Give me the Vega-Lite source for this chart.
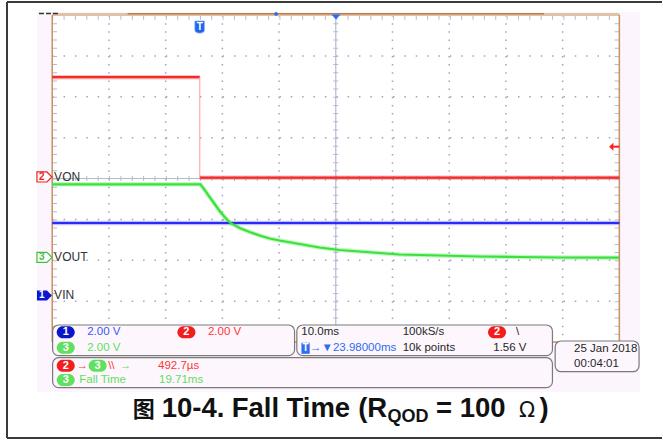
{
"$schema": "https://vega.github.io/schema/vega-lite/v6.json",
"width": 663, "height": 441,
"autosize": {"type": "fit", "contains": "padding"},
"padding": 0,
"background": "#ffffff",
"config": {"view": {"stroke": null}},
"datasets": {
 "areas": [
  {"kind": "bezel", "t": -52.69, "t2": 53.64, "v": 4.073, "v2": -5.223},
  {"kind": "screen", "t": -50, "t2": 50, "v": 4, "v2": -4},
  {"kind": "panel", "t": -49.93, "t2": -7.27, "v": -3.584, "v2": -4.335},
  {"kind": "panel", "t": -6.87, "t2": 38.2, "v": -3.584, "v2": -4.335},
  {"kind": "panel", "t": -49.93, "t2": 38.2, "v": -4.384, "v2": -5.118},
  {"kind": "panel", "t": 38.68, "t2": 53.47, "v": -3.976, "v2": -4.727}
 ],
 "rules": [
  {"kind": "frame", "t": -57.975, "t2": -57.975, "v": 4.318, "v2": -6.349},
  {"kind": "frame", "t": -57.975, "t2": 57.518, "v": 4.318, "v2": 4.318},
  {"kind": "frame", "t": -57.975, "t2": 57.518, "v": -6.349, "v2": -6.349},
  {"kind": "gridv", "t": -40, "t2": -40, "v": 4, "v2": -4},
  {"kind": "gridv", "t": -30, "t2": -30, "v": 4, "v2": -4},
  {"kind": "gridv", "t": -20, "t2": -20, "v": 4, "v2": -4},
  {"kind": "gridv", "t": -10, "t2": -10, "v": 4, "v2": -4},
  {"kind": "gridv", "t": 10, "t2": 10, "v": 4, "v2": -4},
  {"kind": "gridv", "t": 20, "t2": 20, "v": 4, "v2": -4},
  {"kind": "gridv", "t": 30, "t2": 30, "v": 4, "v2": -4},
  {"kind": "gridv", "t": 40, "t2": 40, "v": 4, "v2": -4},
  {"kind": "gridh", "t": -50, "t2": 50, "v": 3, "v2": 3},
  {"kind": "gridh", "t": -50, "t2": 50, "v": 2, "v2": 2},
  {"kind": "gridh", "t": -50, "t2": 50, "v": 1, "v2": 1},
  {"kind": "gridh", "t": -50, "t2": 50, "v": -1, "v2": -1},
  {"kind": "gridh", "t": -50, "t2": 50, "v": -2, "v2": -2},
  {"kind": "gridh", "t": -50, "t2": 50, "v": -3, "v2": -3},
  {"kind": "axis", "t": 0, "t2": 0, "v": 4, "v2": -4},
  {"kind": "axis", "t": -50, "t2": 50, "v": 0, "v2": 0},
  {"kind": "tickv", "t": 0, "t2": 0, "v": 4, "v2": -4},
  {"kind": "tickv", "t": -49.6, "t2": -49.6, "v": 4, "v2": -4},
  {"kind": "tickv", "t": 49.6, "t2": 49.6, "v": 4, "v2": -4},
  {"kind": "tickh", "t": -50, "t2": 50, "v": 0, "v2": 0},
  {"kind": "tickh", "t": -50, "t2": 50, "v": 3.945, "v2": 3.945},
  {"kind": "edge", "t": -50, "t2": -50, "v": 4, "v2": -4},
  {"kind": "edge", "t": 50, "t2": 50, "v": 4, "v2": -4},
  {"kind": "edge", "t": -50, "t2": 50, "v": -4, "v2": -4},
  {"kind": "topband", "t": -50, "t2": 50, "v": 4.01, "v2": 4.01},
  {"kind": "topbar", "t": -36.7, "t2": 36.7, "v": 4.03, "v2": 4.03},
  {"kind": "junk", "t": -52.34, "t2": -48.64, "v": 4.037, "v2": 4.037},
  {"kind": "redge", "t": -23.98, "t2": -23.98, "v": 2.48, "v2": 0.02},
  {"kind": "tail", "t": 48.9, "t2": 50, "v": 0.778, "v2": 0.778}
 ],
 "tr": [
  {"ch": "1", "seg": "1a", "t": -50, "v": -1.089},
  {"ch": "1", "seg": "1a", "t": 50, "v": -1.089},
  {"ch": "3", "seg": "3a", "t": -50, "v": -0.142},
  {"ch": "3", "seg": "3a", "t": -23.87, "v": -0.142},
  {"ch": "3", "seg": "3a", "t": -23.12, "v": -0.281},
  {"ch": "3", "seg": "3a", "t": -22.24, "v": -0.453},
  {"ch": "3", "seg": "3a", "t": -21.36, "v": -0.624},
  {"ch": "3", "seg": "3a", "t": -20.48, "v": -0.795},
  {"ch": "3", "seg": "3a", "t": -19.6, "v": -0.942},
  {"ch": "3", "seg": "3a", "t": -18.71, "v": -1.076},
  {"ch": "3", "seg": "3a", "t": -16.95, "v": -1.211},
  {"ch": "3", "seg": "3a", "t": -15.19, "v": -1.309},
  {"ch": "3", "seg": "3a", "t": -13.43, "v": -1.394},
  {"ch": "3", "seg": "3a", "t": -11.67, "v": -1.468},
  {"ch": "3", "seg": "3a", "t": -9.91, "v": -1.517},
  {"ch": "3", "seg": "3a", "t": -6.39, "v": -1.602},
  {"ch": "3", "seg": "3a", "t": -2.87, "v": -1.688},
  {"ch": "3", "seg": "3a", "t": 0.65, "v": -1.749},
  {"ch": "3", "seg": "3a", "t": 4.17, "v": -1.786},
  {"ch": "3", "seg": "3a", "t": 7.69, "v": -1.823},
  {"ch": "3", "seg": "3a", "t": 11.21, "v": -1.859},
  {"ch": "3", "seg": "3a", "t": 18.26, "v": -1.884},
  {"ch": "3", "seg": "3a", "t": 25.3, "v": -1.908},
  {"ch": "3", "seg": "3a", "t": 32.34, "v": -1.92},
  {"ch": "3", "seg": "3a", "t": 39.38, "v": -1.933},
  {"ch": "3", "seg": "3a", "t": 49.95, "v": -1.938},
  {"ch": "2", "seg": "2a", "t": -50, "v": 2.48},
  {"ch": "2", "seg": "2a", "t": -23.98, "v": 2.48},
  {"ch": "2", "seg": "2b", "t": -23.98, "v": 0.02},
  {"ch": "2", "seg": "2b", "t": 50, "v": 0.02}
 ],
 "tags": [
  {"ch": "2", "t": -51.37, "v": 0.037, "tt": -51.85, "label": "VON"},
  {"ch": "3", "t": -51.37, "v": -1.928, "tt": -51.85, "label": "VOUT"},
  {"ch": "1", "t": -51.37, "v": -2.862, "tt": -51.85, "label": "VIN"}
 ],
 "pills": [
  {"ch": "1", "t": -47.62, "v": -3.763},
  {"ch": "2", "t": -26.34, "v": -3.763},
  {"ch": "3", "t": -47.62, "v": -4.139},
  {"ch": "2", "t": 28.43, "v": -3.763},
  {"ch": "2", "t": -47.62, "v": -4.58},
  {"ch": "3", "t": -41.99, "v": -4.58},
  {"ch": "3", "t": -47.62, "v": -4.93}
 ],
 "txt": [
  {"src": "1", "text": "2.00 V", "t": -43.84, "v": -3.763},
  {"src": "2", "text": "2.00 V", "t": -22.54, "v": -3.763},
  {"src": "3", "text": "2.00 V", "t": -43.84, "v": -4.139},
  {"src": "0", "text": "10.0ms", "t": -6.09, "v": -3.763},
  {"src": "0", "text": "100kS/s", "t": 11.8, "v": -3.763},
  {"src": "0", "text": "\\", "t": 31.76, "v": -3.763},
  {"src": "T", "text": "→▼23.98000ms", "t": -4.54, "v": -4.154},
  {"src": "0", "text": "10k points", "t": 11.8, "v": -4.154},
  {"src": "0", "text": "1.56 V", "t": 27.76, "v": -4.154},
  {"src": "2", "text": "→", "t": -45.7, "v": -4.58},
  {"src": "2", "text": "\\\\", "t": -40.14, "v": -4.58},
  {"src": "3", "text": "→", "t": -38.1, "v": -4.58},
  {"src": "2", "text": "492.7µs", "t": -31.34, "v": -4.58},
  {"src": "3", "text": "Fall Time", "t": -45.24, "v": -4.93},
  {"src": "3", "text": "19.71ms", "t": -31.16, "v": -4.93},
  {"src": "0", "text": "25 Jan  2018", "t": 42.02, "v": -4.179},
  {"src": "0", "text": "00:04:01", "t": 42.02, "v": -4.545}
 ],
 "marks": [
  {"kind": "trig", "t": 0.03, "v": 3.958},
  {"kind": "dot", "t": -10.53, "v": 4.025},
  {"kind": "shield", "t": -24.0, "v": 3.706},
  {"kind": "level", "t": 48.89, "v": 0.778},
  {"kind": "tbox", "t": -5.33, "v": -4.154}
 ],
 "cap": [
  {"part": "cjk", "text": "图", "t": -35.79, "v": -5.835},
  {"part": "main", "text": "10-4.", "t": -30.7, "v": -5.835},
  {"part": "main", "text": "Fall", "t": -18.35, "v": -5.835},
  {"part": "main", "text": "Time", "t": -8.7, "v": -5.835},
  {"part": "main", "text": "(R", "t": 3.95, "v": -5.835},
  {"part": "sub", "text": "QOD", "t": 9.12, "v": -5.957},
  {"part": "main", "text": "=", "t": 17.65, "v": -5.835},
  {"part": "main", "text": "100", "t": 21.85, "v": -5.835},
  {"part": "sym", "text": "Ω", "t": 32.3, "v": -5.835},
  {"part": "main", "text": ")", "t": 35.9, "v": -5.835}
 ]
},
"encoding": {
 "x": {"field": "t", "type": "quantitative", "scale": {"domain": [-59.208, 57.518], "nice": false, "zero": false}, "axis": null},
 "y": {"field": "v", "type": "quantitative", "scale": {"domain": [-6.422, 4.367], "nice": false, "zero": false}, "axis": null}
},
"layer": [
 {"data": {"name": "areas"}, "transform": [{"filter": "datum.kind == 'bezel'"}],
  "mark": {"type": "rect", "fill": "#fdf5fd"},
  "encoding": {"x2": {"field": "t2"}, "y2": {"field": "v2"}}},
 {"data": {"name": "rules"}, "transform": [{"filter": "datum.kind == 'frame'"}],
  "mark": {"type": "rule", "color": "#3a3a3a", "strokeWidth": 2},
  "encoding": {"x2": {"field": "t2"}, "y2": {"field": "v2"}}},
 {"data": {"name": "areas"}, "transform": [{"filter": "datum.kind == 'screen'"}],
  "mark": {"type": "rect", "fill": "#ffffff"},
  "encoding": {"x2": {"field": "t2"}, "y2": {"field": "v2"}}},
 {"data": {"name": "rules"}, "transform": [{"filter": "datum.kind == 'gridv'"}],
  "mark": {"type": "rule", "color": "#9ea4c0", "strokeWidth": 1.5, "strokeDash": [1.5, 6.675]},
  "encoding": {"x2": {"field": "t2"}, "y2": {"field": "v2"}}},
 {"data": {"name": "rules"}, "transform": [{"filter": "datum.kind == 'gridh'"}],
  "mark": {"type": "rule", "color": "#9ea4c0", "strokeWidth": 1.5, "strokeDash": [1.5, 9.86]},
  "encoding": {"x2": {"field": "t2"}, "y2": {"field": "v2"}}},
 {"data": {"name": "rules"}, "transform": [{"filter": "datum.kind == 'axis'"}],
  "mark": {"type": "rule", "color": "#b4bad2", "strokeWidth": 1.2},
  "encoding": {"x2": {"field": "t2"}, "y2": {"field": "v2"}}},
 {"data": {"name": "rules"}, "transform": [{"filter": "datum.kind == 'tickv'"}],
  "mark": {"type": "rule", "color": "#b4bad2", "strokeWidth": 5, "strokeDash": [1, 7.175]},
  "encoding": {"x2": {"field": "t2"}, "y2": {"field": "v2"}}},
 {"data": {"name": "rules"}, "transform": [{"filter": "datum.kind == 'tickh'"}],
  "mark": {"type": "rule", "color": "#b4bad2", "strokeWidth": 5, "strokeDash": [1, 10.36]},
  "encoding": {"x2": {"field": "t2"}, "y2": {"field": "v2"}}},
 {"data": {"name": "rules"}, "transform": [{"filter": "datum.kind == 'topband'"}],
  "mark": {"type": "rule", "color": "#dfc3a8", "strokeWidth": 3},
  "encoding": {"x2": {"field": "t2"}, "y2": {"field": "v2"}}},
 {"data": {"name": "rules"}, "transform": [{"filter": "datum.kind == 'edge'"}],
  "mark": {"type": "rule", "color": "#c8905e", "strokeWidth": 1.5},
  "encoding": {"x2": {"field": "t2"}, "y2": {"field": "v2"}}},
 {"data": {"name": "rules"}, "transform": [{"filter": "datum.kind == 'topbar'"}],
  "mark": {"type": "rule", "color": "#c07c44", "strokeWidth": 1.5},
  "encoding": {"x2": {"field": "t2"}, "y2": {"field": "v2"}}},
 {"data": {"name": "rules"}, "transform": [{"filter": "datum.kind == 'junk'"}],
  "mark": {"type": "rule", "color": "#333333", "strokeWidth": 1.5, "strokeDash": [5, 2]},
  "encoding": {"x2": {"field": "t2"}, "y2": {"field": "v2"}}},
 {"data": {"name": "tr"},
  "mark": {"type": "line", "strokeWidth": 4.5, "opacity": 0.3, "interpolate": "linear"},
  "encoding": {"detail": {"field": "seg"}, "order": {"field": "t", "type": "quantitative"},
   "color": {"field": "ch", "type": "nominal", "scale": {"domain": ["1", "2", "3"], "range": ["#2b2bf5", "#f52b2b", "#3ce03c"]}, "legend": null}}},
 {"data": {"name": "tr"},
  "mark": {"type": "line", "strokeWidth": 2.2, "interpolate": "linear"},
  "encoding": {"detail": {"field": "seg"}, "order": {"field": "t", "type": "quantitative"},
   "color": {"field": "ch", "type": "nominal", "scale": {"domain": ["1", "2", "3"], "range": ["#2b2bf5", "#f52b2b", "#3ce03c"]}, "legend": null}}},
 {"data": {"name": "rules"}, "transform": [{"filter": "datum.kind == 'redge'"}],
  "mark": {"type": "rule", "color": "#ff9a9a", "strokeWidth": 1},
  "encoding": {"x2": {"field": "t2"}, "y2": {"field": "v2"}}},
 {"data": {"name": "rules"}, "transform": [{"filter": "datum.kind == 'tail'"}],
  "mark": {"type": "rule", "color": "#ff2020", "strokeWidth": 2},
  "encoding": {"x2": {"field": "t2"}, "y2": {"field": "v2"}}},
 {"data": {"name": "tags"}, "transform": [{"filter": "datum.ch != '1'"}],
  "mark": {"type": "point", "filled": true, "fill": "#ffffff", "strokeWidth": 1.2, "opacity": 1, "size": 225, "shape": "M-1,-0.67L0.33,-0.67L1,0L0.33,0.67L-1,0.67Z"},
  "encoding": {"stroke": {"field": "ch", "type": "nominal", "scale": {"domain": ["1", "2", "3"], "range": ["#1020d0", "#f02020", "#40c040"]}, "legend": null}}},
 {"data": {"name": "tags"}, "transform": [{"filter": "datum.ch == '1'"}],
  "mark": {"type": "point", "filled": true, "fill": "#0a18d0", "opacity": 1, "size": 225, "shape": "M-1,-0.67L0.33,-0.67L1,0L0.33,0.67L-1,0.67Z"}},
 {"data": {"name": "tags"}, "transform": [{"filter": "datum.ch != '1'"}],
  "mark": {"type": "text", "fontSize": 10, "fontWeight": "bold", "font": "Liberation Sans", "align": "center", "baseline": "middle"},
  "encoding": {"x": {"field": "tt", "type": "quantitative"}, "text": {"field": "ch"},
   "color": {"field": "ch", "type": "nominal", "scale": {"domain": ["1", "2", "3"], "range": ["#1020d0", "#f02020", "#40c040"]}, "legend": null}}},
 {"data": {"name": "tags"}, "transform": [{"filter": "datum.ch == '1'"}],
  "mark": {"type": "text", "fontSize": 10, "fontWeight": "bold", "font": "Liberation Sans", "align": "center", "baseline": "middle", "color": "#ffffff"},
  "encoding": {"x": {"field": "tt", "type": "quantitative"}, "text": {"field": "ch"}}},
 {"data": {"name": "tags"},
  "mark": {"type": "text", "fontSize": 12, "font": "Liberation Sans", "align": "left", "baseline": "middle", "color": "#333333", "dx": 1.9},
  "encoding": {"x": {"datum": -50}, "text": {"field": "label"}}},
 {"data": {"name": "marks"}, "transform": [{"filter": "datum.kind == 'trig'"}],
  "mark": {"type": "point", "filled": true, "fill": "#1f6fff", "opacity": 1, "size": 81, "shape": "M-1,-0.5L1,-0.5L0,0.6Z"}},
 {"data": {"name": "marks"}, "transform": [{"filter": "datum.kind == 'dot'"}],
  "mark": {"type": "point", "filled": true, "fill": "#2f6cf0", "opacity": 1, "size": 14, "shape": "circle"}},
 {"data": {"name": "marks"}, "transform": [{"filter": "datum.kind == 'shield'"}],
  "mark": {"type": "point", "filled": true, "fill": "#2166e8", "stroke": "#9fbfff", "strokeWidth": 0.8, "opacity": 1, "size": 150, "shape": "M-0.8,-1L0.8,-1L0.8,0.45Q0.8,1 0,1Q-0.8,1 -0.8,0.45Z"}},
 {"data": {"name": "marks"}, "transform": [{"filter": "datum.kind == 'shield'"}],
  "mark": {"type": "text", "text": "T", "fontSize": 10, "fontWeight": "bold", "font": "Liberation Sans", "align": "center", "baseline": "middle", "color": "#ffffff", "dy": -0.5}},
 {"data": {"name": "marks"}, "transform": [{"filter": "datum.kind == 'level'"}],
  "mark": {"type": "point", "filled": true, "fill": "#ff2020", "opacity": 1, "size": 64, "shape": "M-1,0L0.1,-1L0.1,1Z"}},
 {"data": {"name": "areas"}, "transform": [{"filter": "datum.kind == 'panel'"}],
  "mark": {"type": "rect", "fill": "#fdf7fd", "stroke": "#7a7a7a", "strokeWidth": 1.2, "cornerRadius": 6},
  "encoding": {"x2": {"field": "t2"}, "y2": {"field": "v2"}}},
 {"data": {"name": "pills"},
  "mark": {"type": "point", "filled": true, "opacity": 1, "size": 324, "shape": "M-0.33,-0.67L0.33,-0.67A0.67,0.67 0 0 1 0.33,0.67L-0.33,0.67A0.67,0.67 0 0 1 -0.33,-0.67Z"},
  "encoding": {"fill": {"field": "ch", "type": "nominal", "scale": {"domain": ["1", "2", "3"], "range": ["#0b16c8", "#f21d1d", "#5fe05f"]}, "legend": null}}},
 {"data": {"name": "pills"},
  "mark": {"type": "text", "fontSize": 11, "fontWeight": "bold", "font": "Liberation Sans", "align": "center", "baseline": "middle", "color": "#ffffff"},
  "encoding": {"text": {"field": "ch"}}},
 {"data": {"name": "marks"}, "transform": [{"filter": "datum.kind == 'tbox'"}],
  "mark": {"type": "point", "filled": true, "fill": "#2f6cf0", "opacity": 1, "size": 121, "shape": "M-0.75,-1L0.75,-1L0.75,1L-0.75,1Z"}},
 {"data": {"name": "marks"}, "transform": [{"filter": "datum.kind == 'tbox'"}],
  "mark": {"type": "text", "text": "T", "fontSize": 10, "fontWeight": "bold", "font": "Liberation Sans", "align": "center", "baseline": "middle", "color": "#ffffff"}},
 {"data": {"name": "txt"},
  "mark": {"type": "text", "fontSize": 11.5, "font": "Liberation Sans Narrow, Liberation Sans", "align": "left", "baseline": "middle"},
  "encoding": {"text": {"field": "text"},
   "color": {"field": "src", "type": "nominal", "scale": {"domain": ["0", "1", "2", "3", "T"], "range": ["#262626", "#3a55ff", "#ff3535", "#62dd62", "#2f6cf0"]}, "legend": null}}},
 {"data": {"name": "cap"}, "transform": [{"filter": "datum.part == 'cjk'"}],
  "mark": {"type": "text", "fontSize": 22, "fontWeight": "bold", "font": "Noto Sans CJK SC", "align": "left", "baseline": "alphabetic", "color": "#111111"},
  "encoding": {"text": {"field": "text"}}},
 {"data": {"name": "cap"}, "transform": [{"filter": "datum.part == 'main'"}],
  "mark": {"type": "text", "fontSize": 27.5, "fontWeight": "bold", "font": "Liberation Sans", "align": "left", "baseline": "alphabetic", "color": "#111111"},
  "encoding": {"text": {"field": "text"}}},
 {"data": {"name": "cap"}, "transform": [{"filter": "datum.part == 'sub'"}],
  "mark": {"type": "text", "fontSize": 18, "fontWeight": "bold", "font": "Liberation Sans", "align": "left", "baseline": "alphabetic", "color": "#111111"},
  "encoding": {"text": {"field": "text"}}},
 {"data": {"name": "cap"}, "transform": [{"filter": "datum.part == 'sym'"}],
  "mark": {"type": "text", "fontSize": 21, "font": "DejaVu Sans", "align": "left", "baseline": "alphabetic", "color": "#111111"},
  "encoding": {"text": {"field": "text"}}}
],
"resolve": {"scale": {"color": "independent", "fill": "independent", "stroke": "independent"}}
}
